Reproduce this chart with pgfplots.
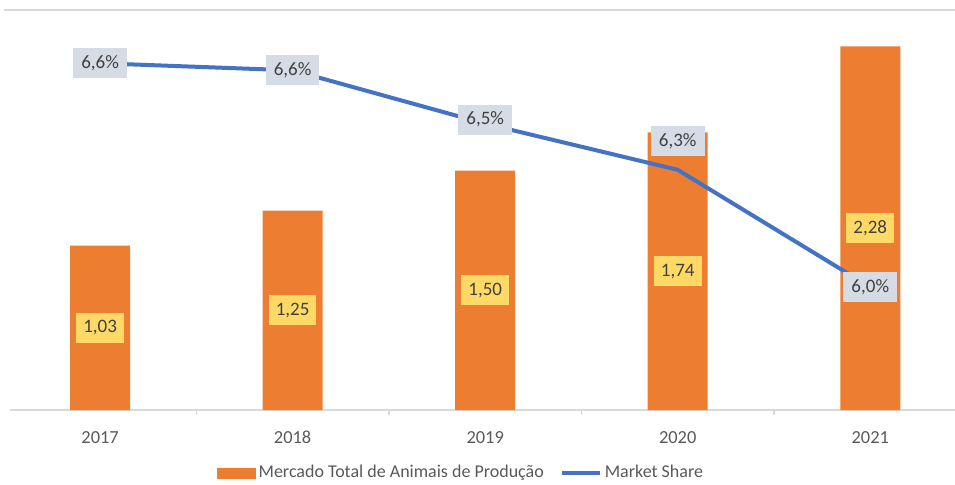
\documentclass[border=0pt]{standalone}
\usepackage{fontspec}
\setmainfont{Carlito}
\usepackage{pgfplots}
\pgfplotsset{compat=1.18}
\definecolor{barorange}{HTML}{ED7D31}
\definecolor{lineblue}{HTML}{4472C4}
\definecolor{lblyellow}{HTML}{FFD966}
\definecolor{lblgrey}{HTML}{D6DCE5}
\definecolor{txtgrey}{HTML}{595959}
\definecolor{lbltxt}{HTML}{404040}
\definecolor{axgrey}{HTML}{D9D9D9}
\begin{document}
\begin{tikzpicture}
\useasboundingbox (-5pt,-37pt) rectangle (472.5pt,205pt);
\draw[axgrey, line width=1pt] (-3pt,200pt) -- (472.5pt,200pt);
\begin{axis}[
  at={(0pt,0pt)}, anchor=south west,
  scale only axis, width=472.5pt, height=205pt,
  xmin=-0.468, xmax=4.44, ymin=0, ymax=2.5705,
  axis x line*=bottom, axis y line=none,
  x axis line style={axgrey, line width=0.75pt, -},
  xtick={0,1,2,3,4}, xticklabels={2017,2018,2019,2020,2021},
  major tick length=0pt,
  minor xtick={0.5,1.5,2.5,3.5}, minor tick length=2.5pt, tick align=outside,
  minor tick style={axgrey, line width=0.75pt},
  ticklabel style={font=\fontsize{9.2}{11}\selectfont, text=txtgrey},
  xticklabel style={yshift=-6.5pt, text height=6.5pt, text depth=1pt},
  /pgf/number format/assume math mode=true,
  ybar, bar width=30pt,
  clip=false,
]
\addplot[fill=barorange, draw=none,
  point meta=explicit symbolic,
  nodes near coords,
  visualization depends on={value \thisrow{y} \as \rawy},
  every node near coord/.append style={anchor=center, yshift={-39.875*\rawy*1pt},
    fill=lblyellow, text=lbltxt, font=\fontsize{9.5}{11}\selectfont,
    inner xsep=3.5pt, inner ysep=0pt, minimum height=15pt},
] table[meta=label] {
x y label
0 1.03 1,03
1 1.25 1,25
2 1.50 1,50
3 1.74 1,74
4 2.28 2,28
};
\end{axis}
\begin{axis}[
  at={(0pt,0pt)}, anchor=south west,
  scale only axis, width=472.5pt, height=205pt,
  xmin=-0.468, xmax=4.44, ymin=5.654, ymax=6.808,
  hide axis, clip=false,
  legend style={at={(0.4777,0)}, anchor=center, yshift=-31.5pt, draw=none, fill=none,
    font=\fontsize{9}{11}\selectfont, text=txtgrey,
    /tikz/every even column/.append style={column sep=6.5pt},
    nodes={inner xsep=1.5pt}},
  legend columns=2,
]
\addlegendimage{legend image code/.code={\fill[barorange] (0pt,-2.5pt) rectangle (19pt,2.5pt);}}
\addlegendentry{Mercado Total de Animais de Produção}
\addplot[lineblue, line width=2pt, line join=round, mark=none,
  point meta=explicit symbolic,
  nodes near coords={\pgfplotspointmeta\%},
  visualization depends on={value \thisrow{dy} \as \dy},
  every node near coord/.append style={anchor=center, yshift=\dy pt,
    fill=lblgrey, text=lbltxt, font=\fontsize{9.5}{11}\selectfont,
    inner xsep=4pt, inner ysep=0pt, minimum height=15pt},
  legend image code/.code={\draw[lineblue, line width=2pt] (0pt,0pt) -- (19pt,0pt);},
] table[meta=label] {
x y label dy
0 6.63 6,6 0
1 6.61 6,6 0
2 6.46 6,5 2
3 6.33 6,3 14.5
4 6.00 6,0 0
};
\addlegendentry{Market Share}
\end{axis}
\end{tikzpicture}
\end{document}
